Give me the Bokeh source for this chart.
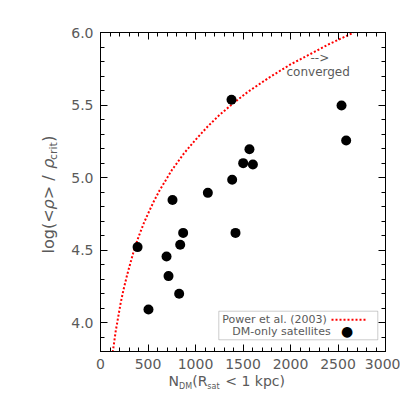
from bokeh.plotting import figure
from bokeh.models import (LinearAxis, SingleIntervalTicker, PrintfTickFormatter, Label,
                          BoxAnnotation, Arrow, Range1d, ColumnDataSource, CustomJSTickFormatter)
from bokeh.embed import file_html
from bokeh.resources import INLINE
import math

# ---- data ----
n_dm = [390, 505, 695, 716, 758, 839, 870, 828, 1130, 1386, 1421, 1502, 1604, 1568, 1379, 2537, 2586]
log_rho = [4.52, 4.09, 4.455, 4.32, 4.845, 4.536, 4.618, 4.198, 4.894, 4.984, 4.618, 5.099, 5.09,
           5.195, 5.536, 5.497, 5.255]

# Power et al. (2003) convergence curve
power_n = [129, 160, 211, 240, 281, 351, 400, 456, 500, 561, 621, 750, 877, 1000, 1123, 1250,
           1376, 1550, 1789, 2000, 2176, 2400, 2666]
power_log_rho = [3.795, 3.94, 4.13, 4.22, 4.33, 4.495, 4.59, 4.685, 4.75, 4.835, 4.91, 5.05, 5.165,
                 5.26, 5.348, 5.43, 5.5, 5.59, 5.695, 5.78, 5.84, 5.918, 6.0]

x_start, x_end = 0, 3000
y_start, y_end = 3.8, 6.0

FONT = "DejaVu Sans"
GREY = "#5a5a5a"
NB = "\u00a0"

# canvas-pixel -> data helpers for annotation placement
FL, FR, FT, FB = 100, 385, 32, 351
def sx(px):
    return x_start + (px - FL) / (FR - FL) * (x_end - x_start)
def sy(py):
    return y_end - (py - FT) / (FB - FT) * (y_end - y_start)

p = figure(frame_width=FR - FL, frame_height=FB - FT, output_backend="svg", toolbar_location=None,
           x_range=Range1d(x_start, x_end), y_range=Range1d(y_start, y_end),
           min_border_left=FL, min_border_right=15, min_border_top=FT, min_border_bottom=10,
           background_fill_color="white", border_fill_color="white")
p.grid.visible = False
p.outline_line_color = "black"

p.xaxis.ticker = SingleIntervalTicker(interval=500, num_minor_ticks=5)
p.yaxis.ticker = SingleIntervalTicker(interval=0.5, num_minor_ticks=5)
p.yaxis.formatter = PrintfTickFormatter(format="%.1f")

def style_axis(ax, labels=True):
    ax.axis_line_color = "black"
    ax.major_tick_line_color = "black"
    ax.minor_tick_line_color = "black"
    ax.major_tick_in = 7
    ax.major_tick_out = 0
    ax.minor_tick_in = 4
    ax.minor_tick_out = 0
    ax.major_label_text_font = FONT
    ax.major_label_text_color = GREY
    ax.major_label_text_font_size = "14px"
    ax.major_label_standoff = 7 if labels else 0
    if not labels:
        ax.formatter = CustomJSTickFormatter(code="return ''")

style_axis(p.xaxis[0])
style_axis(p.yaxis[0])

top = LinearAxis(ticker=SingleIntervalTicker(interval=500, num_minor_ticks=5))
right = LinearAxis(ticker=SingleIntervalTicker(interval=0.5, num_minor_ticks=5))
style_axis(top, labels=False)
style_axis(right, labels=False)
p.add_layout(top, "above")
p.add_layout(right, "right")

# Power et al. curve
src_p = ColumnDataSource(dict(x=power_n, y=power_log_rho))
p.line("x", "y", source=src_p, line_color="red", line_width=2, line_dash="2 2")

# satellites
src = ColumnDataSource(dict(x=n_dm, y=log_rho))
p.scatter("x", "y", source=src, size=10, fill_color="black", line_color=None)

def lab(text, px, py, size, color=GREY, angle=0.0, style="normal", align="left", side=None):
    l = Label(x=sx(px), y=sy(py), text=text, text_font=FONT, text_font_size=f"{size}px",
              text_color=color, text_baseline="middle", text_align=align,
              angle=angle, text_font_style=style)
    if side is None:
        p.add_layout(l)
    else:
        p.add_layout(l, side)

# x-axis title: N_DM (R_sat < 1 kpc)  (side panel -> not clipped by the frame)
lab("N" + NB * 3 + "(R" + NB * 4 + "<" + NB + "1" + NB + "kpc)", 168, 380, 14, side="below")
lab("DM" + NB * 6 + "sat", 178.5, 386, 8, side="below")

# y-axis title: log(<rho>/rho_crit)
A = math.pi / 2
lab("log(<" + NB * 2 + ">" + NB + "/" + NB + NB * 5 + "\u2009)", 48, 253, 16, angle=A, side="left")
lab("ρ" + NB * 6 + "ρ", 48, 209, 16, angle=A, style="italic", side="left")
lab("crit", 53, 159.6, 11, angle=A, side="left")

# converged note
lab("-->", 310, 57, 12)
lab("converged", 286, 71, 12)

# legend
p.add_layout(BoxAnnotation(left=sx(218.3), right=sx(377.3), top=sy(310.7), bottom=sy(339.3),
                           fill_color=None, line_color=GREY, line_width=1))
lab("Power et al. (2003)", 221.7, 319.3, 11)
lab("DM-only satellites", 231.7, 331, 11)
p.add_layout(Arrow(end=None, x_start=sx(331), y_start=sy(319.3), x_end=sx(367), y_end=sy(319.3),
                   line_color="red", line_width=2, line_dash="2 2"))
lab("●", 346.7, 330, 14, color="black", align="center")

open("out.html", "w").write(file_html(p, INLINE))
